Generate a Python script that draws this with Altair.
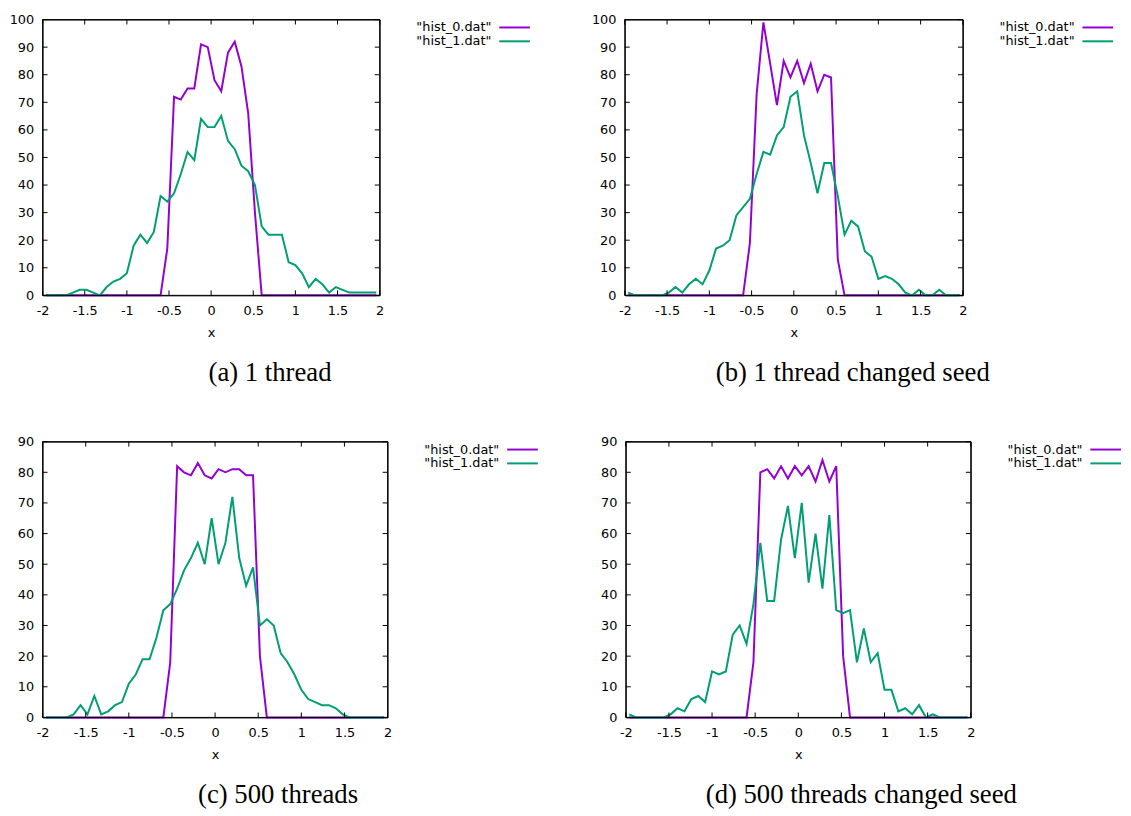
import altair as alt
import pandas as pd

# bin centres (x)
x_centers = [-1.96, -1.88, -1.80, -1.72, -1.64, -1.56, -1.48, -1.40, -1.32, -1.24,
             -1.16, -1.08, -1.00, -0.92, -0.84, -0.76, -0.68, -0.60, -0.52, -0.44,
             -0.36, -0.28, -0.20, -0.12, -0.04, 0.04, 0.12, 0.20, 0.28, 0.36,
             0.44, 0.52, 0.60, 0.68, 0.76, 0.84, 0.92, 1.00, 1.08, 1.16,
             1.24, 1.32, 1.40, 1.48, 1.56, 1.64, 1.72, 1.80, 1.88, 1.96]

series_names = ['"hist_0.dat"', '"hist_1.dat"']
series_colors = ["#9400D3", "#009E73"]

# (a) 1 thread
a_hist0 = [0, 0, 0, 0, 0, 0, 0, 0, 0, 0, 0, 0, 0, 0, 0, 0, 0, 0,
           17, 72, 71, 75, 75, 91, 90, 78, 74, 88, 92, 83, 66, 30,
           0, 0, 0, 0, 0, 0, 0, 0, 0, 0, 0, 0, 0, 0, 0, 0, 0, 0]
a_hist1 = [0, 0, 0, 0, 1, 2, 2, 1, 0, 3, 5, 6, 8, 18, 22, 19, 23, 36, 34, 37,
           44, 52, 49, 64, 61, 61, 65, 56, 53, 47, 45, 40, 25, 22, 22, 22, 12, 11, 8, 3,
           6, 4, 1, 3, 2, 1, 1, 1, 1, 1]
# (b) 1 thread changed seed
b_hist0 = [0, 0, 0, 0, 0, 0, 0, 0, 0, 0, 0, 0, 0, 0, 0, 0, 0, 0,
           19, 73, 99, 84, 69, 85, 79, 85, 77, 84, 74, 80, 79, 13,
           0, 0, 0, 0, 0, 0, 0, 0, 0, 0, 0, 0, 0, 0, 0, 0, 0, 0]
b_hist1 = [1, 0, 0, 0, 0, 0, 1, 3, 1, 4, 6, 4, 9, 17, 18, 20, 29, 32, 35, 44,
           52, 51, 58, 61, 72, 74, 58, 48, 37, 48, 48, 36, 22, 27, 25, 16, 14, 6, 7, 6,
           4, 1, 0, 2, 0, 0, 2, 0, 0, 0]
# (c) 500 threads
c_hist0 = [0, 0, 0, 0, 0, 0, 0, 0, 0, 0, 0, 0, 0, 0, 0, 0, 0, 0,
           18, 82, 80, 79, 83, 79, 78, 81, 80, 81, 81, 79, 79, 20,
           0, 0, 0, 0, 0, 0, 0, 0, 0, 0, 0, 0, 0, 0, 0, 0, 0, 0]
c_hist1 = [0, 0, 0, 0, 1, 4, 1, 7, 1, 2, 4, 5, 11, 14, 19, 19, 26, 35, 37, 42,
           48, 52, 57, 50, 65, 50, 57, 72, 52, 43, 49, 30, 32, 30, 21, 18, 14, 9, 6, 5,
           4, 4, 3, 1, 0, 0, 0, 0, 0, 0]
# (d) 500 threads changed seed
d_hist0 = [0, 0, 0, 0, 0, 0, 0, 0, 0, 0, 0, 0, 0, 0, 0, 0, 0, 0,
           18, 80, 81, 78, 82, 78, 82, 79, 82, 77, 84, 77, 82, 20,
           0, 0, 0, 0, 0, 0, 0, 0, 0, 0, 0, 0, 0, 0, 0, 0, 0, 0]
d_hist1 = [1, 0, 0, 0, 0, 0, 1, 3, 2, 6, 7, 5, 15, 14, 15, 27, 30, 24, 37, 57,
           38, 38, 58, 69, 52, 70, 44, 60, 42, 66, 35, 34, 35, 18, 29, 18, 21, 9, 9, 2,
           3, 1, 4, 0, 1, 0, 0, 0, 0, 0]

x_ticks = [-2, -1.5, -1, -0.5, 0, 0.5, 1, 1.5, 2]
y_ticks_100 = [0, 10, 20, 30, 40, 50, 60, 70, 80, 90, 100]
y_ticks_90 = [0, 10, 20, 30, 40, 50, 60, 70, 80, 90]

captions = ["(a) 1 thread", "(b) 1 thread changed seed",
            "(c) 500 threads", "(d) 500 threads changed seed"]

SANS = "DejaVu Sans"
SERIF = "Liberation Serif"
TICK = 5          # tick length in pixels
FRAME = "black"


def panel(h0, h1, yticks, caption, W, H):
    x0, x1 = x_ticks[0], x_ticks[-1]
    y0, y1 = yticks[0], yticks[-1]
    tl_y = (y1 - y0) * TICK / H      # tick length expressed in data units
    tl_x = (x1 - x0) * TICK / W

    df = pd.DataFrame({
        "x": x_centers + x_centers,
        "count": h0 + h1,
        "series": [series_names[0]] * len(h0) + [series_names[1]] * len(h1),
    })
    xs = alt.Scale(domain=[x0, x1], nice=False, zero=False)
    ys = alt.Scale(domain=[y0, y1], nice=False, zero=False)
    xaxis = alt.Axis(values=x_ticks, tickSize=0, domain=False, grid=False,
                     labelPadding=9, labelFlush=False, labelOverlap=False,
                     labelExpr="datum.value + ''", title="x", titlePadding=10)
    yaxis = alt.Axis(values=yticks, tickSize=0, domain=False, grid=False,
                     labelPadding=9, labelFlush=False, labelOverlap=False,
                     labelExpr="datum.value + ''", title=None)
    X = lambda f: alt.X(f, type="quantitative", scale=xs, axis=xaxis, title="x")
    Y = lambda f: alt.Y(f, type="quantitative", scale=ys, axis=yaxis, title=None)

    lines = alt.Chart(df).mark_line(strokeWidth=2).encode(
        x=X("x"), y=Y("count"),
        color=alt.Color("series:N", scale=alt.Scale(domain=series_names, range=series_colors),
                        legend=None),
    )

    # inward ticks on all four sides, placed through the scales
    xt_bot = pd.DataFrame({"x": x_ticks, "count": [y0] * len(x_ticks),
                           "e": [y0 + tl_y] * len(x_ticks)})
    xt_top = pd.DataFrame({"x": x_ticks, "count": [y1] * len(x_ticks),
                           "e": [y1 - tl_y] * len(x_ticks)})
    yt_left = pd.DataFrame({"count": yticks, "x": [x0] * len(yticks),
                            "e": [x0 + tl_x] * len(yticks)})
    yt_right = pd.DataFrame({"count": yticks, "x": [x1] * len(yticks),
                             "e": [x1 - tl_x] * len(yticks)})
    tb = alt.Chart(xt_bot).mark_rule(color=FRAME, strokeWidth=1).encode(
        x=X("x"), y=Y("count"), y2="e")
    tt = alt.Chart(xt_top).mark_rule(color=FRAME, strokeWidth=1).encode(
        x=X("x"), y=Y("count"), y2="e")
    tlft = alt.Chart(yt_left).mark_rule(color=FRAME, strokeWidth=1).encode(
        y=Y("count"), x=X("x"), x2="e")
    trgt = alt.Chart(yt_right).mark_rule(color=FRAME, strokeWidth=1).encode(
        y=Y("count"), x=X("x"), x2="e")

    # plot border
    border = pd.DataFrame({"x": [x0], "xe": [x1], "count": [y0], "ye": [y1]})
    frame = alt.Chart(border).mark_rect(
        fillOpacity=0, stroke=FRAME, strokeWidth=1
    ).encode(x=X("x"), x2="xe", y=Y("count"), y2="ye")

    leg = []
    for i, (name, col) in enumerate(zip(series_names, series_colors)):
        ly = 8 + 14 * i
        leg.append(alt.Chart(pd.DataFrame({"label": [name]})).mark_text(
            align="right", baseline="middle", font=SANS, fontSize=13, color="black"
        ).encode(text="label:N", x=alt.value(W + 113), y=alt.value(ly)))
        leg.append(alt.Chart(pd.DataFrame({"label": [name]})).mark_rule(
            color=col, strokeWidth=2
        ).encode(x=alt.value(W + 121), x2=alt.value(W + 152), y=alt.value(ly)))

    return alt.layer(lines, tb, tt, tlft, trgt, frame, *leg).properties(
        width=W, height=H,
        title=alt.TitleParams(caption, orient="bottom", anchor="middle", frame="bounds",
                              font=SERIF, fontSize=27, fontWeight="normal",
                              color="black", offset=21),
    )


pa = panel(a_hist0, a_hist1, y_ticks_100, captions[0], 341, 279)
pb = panel(b_hist0, b_hist1, y_ticks_100, captions[1], 342, 279)
pc = panel(c_hist0, c_hist1, y_ticks_90, captions[2], 349, 279)
pd_ = panel(d_hist0, d_hist1, y_ticks_90, captions[3], 349, 279)

chart = alt.vconcat(
    alt.hconcat(pa, pb, spacing=59),
    alt.hconcat(pc, pd_, spacing=60),
    spacing=48,
).properties(padding=0).configure_view(
    stroke="black", strokeWidth=1
).configure_axis(
    labelFont=SANS, labelFontSize=13, labelColor="black",
    titleFont=SANS, titleFontSize=13, titleFontWeight="normal", titleColor="black",
)

chart.save("out.html", embed_options={"renderer": "svg", "actions": False})
